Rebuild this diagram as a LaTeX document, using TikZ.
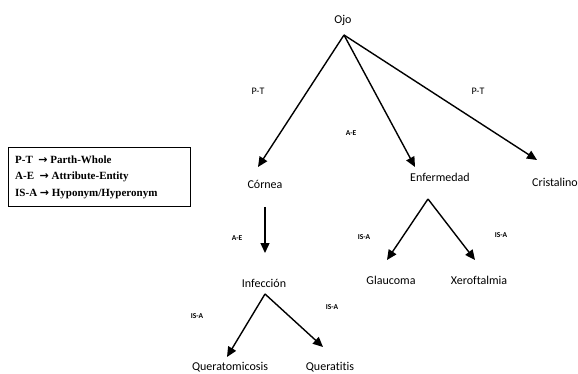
\documentclass[tikz,border=0pt]{standalone}
\usepackage{fontspec}
\setmainfont[Ligatures={NoCommon,NoDiscretionary,NoContextual}]{Carlito}
\newfontfamily\legendfont{Liberation Serif}
\newfontfamily\arrfont{DejaVu Sans}
\usetikzlibrary{arrows.meta,calc}
\newcommand{\larr}{{\arrfont\bfseries\fontsize{11}{12}\selectfont →}}
\begin{document}
\begin{tikzpicture}[x=1pt,y=-1pt,
  concept/.style={inner sep=1pt,font=\fontsize{12}{14}\selectfont},
  biglab/.style={inner sep=0pt,font=\fontsize{10}{12}\selectfont},
  smalllab/.style={inner sep=0pt,font=\fontsize{7.5}{9}\selectfont\bfseries},
  arr/.style={line width=1.4pt,-{Triangle[length=10pt,width=9pt]}}]
\useasboundingbox (0,0) rectangle (578,374);
% concept nodes
\node[concept] (ojo) at (343,20) {Ojo};
\node[concept] (cornea) at (265,184) {Córnea};
\node[concept] (enf) at (440,177) {Enfermedad};
\node[concept] (cris) at (555,182) {Cristalino};
\node[concept] (inf) at (264,283) {Infección};
\node[concept] (glau) at (391,280) {Glaucoma};
\node[concept] (xero) at (479,280) {Xeroftalmia};
\node[concept] (quem) at (230,367) {Queratomicosis};
\node[concept] (quet) at (330,367) {Queratitis};
% branch points
\coordinate (ojoS) at (344,35);
\coordinate (enfS) at (428,199);
\coordinate (infS) at (265,294);
% connectors
\draw[arr] (ojoS) -- ($(cornea.center)+(-7,-17)$);
\draw[arr] (ojoS) -- ($(enf.center)+(-25,-10)$);
\draw[arr] (ojoS) -- ($(cris.center)+(-18,-22)$);
\draw[arr] ($(cornea.center)+(0,23)$) -- ($(inf.center)+(1,-30)$);
\draw[arr] (enfS) -- ($(glau.center)+(-4,-20)$);
\draw[arr] (enfS) -- ($(xero.center)+(-4,-20)$);
\draw[arr] (infS) -- ($(quem.center)+(-3,-10)$);
\draw[arr] (infS) -- ($(quet.center)+(-7,-20)$);
% edge labels
\node[biglab] (l1) at (258,91) {P-T};
\node[biglab] (l2) at (478,91) {P-T};
\node[smalllab] (l3) at (351,133) {A-E};
\node[smalllab] (l4) at (237,238) {A-E};
\node[smalllab] (l5) at (364,237) {IS-A};
\node[smalllab] (l6) at (501,235) {IS-A};
\node[smalllab] (l7) at (197,316) {IS-A};
\node[smalllab] (l8) at (332,307) {IS-A};
% legend
\node[draw,line width=0.6pt,minimum width=182pt,minimum height=59pt,inner sep=0pt] (legbox) at (99,177) {};
\node[anchor=west,inner sep=0pt,align=left,font=\legendfont\bfseries\fontsize{11}{16.5}\selectfont] (legtext) at (15,177)
{P-T\ \ \larr\ Parth-Whole\\A-E\ \ \larr\ Attribute-Entity\\IS-A \larr\ Hyponym/Hyperonym};
\end{tikzpicture}
\end{document}
